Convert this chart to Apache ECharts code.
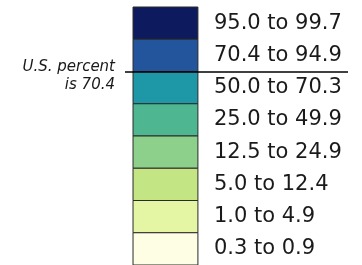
<!DOCTYPE html>
<html>
<head>
<meta charset="utf-8">
<script src="https://cdn.jsdelivr.net/npm/echarts@6/dist/echarts.min.js"></script>
<style>
  html, body { margin: 0; background: #fff; }
  #chart { width: 362px; height: 265px; }
</style>
</head>
<body>
<div id="chart"></div>
<script>
// legend bins, top (highest) to bottom
const binLabels = ['95.0 to 99.7', '70.4 to 94.9', '50.0 to 70.3', '25.0 to 49.9', '12.5 to 24.9', '5.0 to 12.4', '1.0 to 4.9', '0.3 to 0.9'];
const binLows = [95.0, 70.4, 50.0, 25.0, 12.5, 5.0, 1.0, 0.3];
const binColors = ['#0d1b5e', '#23559d', '#1e97a7', '#4eb792', '#8cd08c', '#c4e584', '#e4f5a4', '#fefee4'];
const usPercent = 70.4;
const usNote = 'U.S. percent\nis ' + usPercent.toFixed(1);

// the US line sits on the lower edge of the bin that starts at the US value
const usEdge = binLows.findIndex((low) => low <= usPercent) + 1;

// box column, in x-axis units (axis runs 0..1 across the line width)
const boxLeft = 0.036;
const boxRight = 0.327;
const font = 'DejaVu Sans, sans-serif';

const chart = echarts.init(document.getElementById('chart'), null, { renderer: 'canvas' });
chart.setOption({
  animation: false,
  backgroundColor: '#fff',
  grid: { left: 125, right: 14, top: 7, bottom: 0 },
  xAxis: { type: 'value', min: 0, max: 1, show: false },
  yAxis: { type: 'value', min: 0, max: binLabels.length, inverse: true, show: false },
  graphic: [
    {
      type: 'text',
      x: 115,
      y: 58,
      style: {
        text: usNote,
        align: 'right',
        verticalAlign: 'top',
        fontFamily: font,
        fontStyle: 'italic',
        fontSize: 15,
        lineHeight: 18,
        fill: '#1a1a1a'
      }
    }
  ],
  series: [
    {
      type: 'custom',
      data: binLabels.map((label, i) => ({ name: label, value: [0, i] })),
      renderItem: (params, api) => {
        const i = api.value(1);
        const p0 = api.coord([boxLeft, i]);
        const p1 = api.coord([boxRight, i + 1]);
        return {
          type: 'group',
          children: [
            {
              type: 'rect',
              shape: { x: p0[0], y: p0[1], width: p1[0] - p0[0], height: p1[1] - p0[1] },
              style: { fill: binColors[i], stroke: '#2a2a2a', lineWidth: 1 }
            },
            {
              type: 'text',
              style: {
                text: binLabels[i],
                x: p1[0] + 16,
                y: (p0[1] + p1[1]) / 2,
                verticalAlign: 'middle',
                fontFamily: font,
                fontSize: 21,
                fill: '#1a1a1a'
              }
            }
          ]
        };
      },
      markLine: {
        silent: true,
        symbol: 'none',
        lineStyle: { color: '#000', width: 1.5, type: 'solid' },
        label: { show: false },
        data: [{ yAxis: usEdge }]
      }
    }
  ]
});
</script>
</body>
</html>
